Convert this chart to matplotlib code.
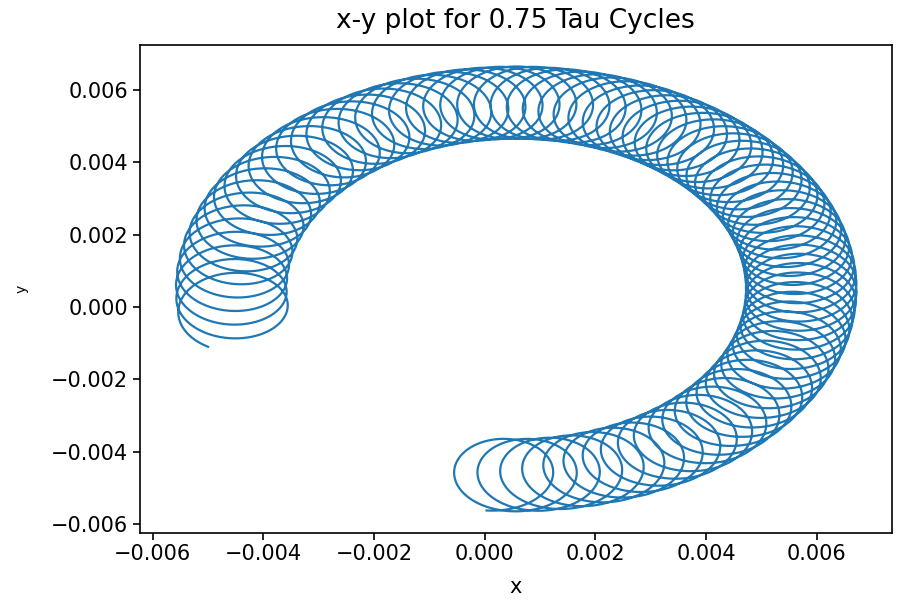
import numpy as np
import matplotlib
matplotlib.use("Agg")
import matplotlib.pyplot as plt

# -----------------------------------------
# Values
# -----------------------------------------
TITLE = "x-y plot for 0.75 Tau Cycles"
CENTER_X = 0.00057       # centre of the drift circle
CENTER_Y = 0.0005
DRIFT_RADIUS = 0.00515   # radius of the guiding-centre path
START_DEG = -95.0        # guiding-centre angle at start
END_DEG = 188.0          # guiding-centre angle at end
N_LOOPS = 80.15          # gyrations over the whole run
GYRO_RADIUS = 0.001      # radius of each loop

# loop spacing along the ring, read at a few angles
PROFILE_DEG = [-95.0, -45.0, 0.0, 45.0, 90.0, 140.0, 188.0]
LOOP_SPACING = [0.00043, 0.00033, 0.00025, 0.00026, 0.00030, 0.00035, 0.00038]
N_POINTS = 30000

# -----------------------------------------
# Build the trajectory
# -----------------------------------------
phi_grid = np.linspace(START_DEG, END_DEG, 5000)
inv_speed = 1.0 / np.interp(phi_grid, PROFILE_DEG, LOOP_SPACING)
s_grid = np.concatenate([[0.0], np.cumsum(0.5 * (inv_speed[1:] + inv_speed[:-1]) * np.diff(phi_grid))])
s_grid /= s_grid[-1]

s = np.linspace(0.0, 1.0, N_POINTS)
phi = np.deg2rad(np.interp(s, s_grid, phi_grid))
psi = 2 * np.pi * N_LOOPS * s

ur = np.stack([np.cos(phi), np.sin(phi)])
ut = np.stack([-np.sin(phi), np.cos(phi)])

gc = np.stack([CENTER_X + DRIFT_RADIUS * np.cos(phi),
               CENTER_Y + DRIFT_RADIUS * np.sin(phi)])
pos = gc + GYRO_RADIUS * (np.cos(psi) * ur + np.sin(psi) * ut)
x, y = pos

# -----------------------------------------
# Plot
# -----------------------------------------
fig = plt.figure(figsize=(8.99, 6.0), dpi=100)
ax = fig.add_axes([0.1557, 0.1122, 0.8362, 0.8128])

ax.plot(x, y, color="#1f77b4", linewidth=1.6)

ax.set_title(TITLE, fontsize=19, pad=12)
ax.set_xlabel("x", fontsize=15, labelpad=9)
ax.set_ylabel("y", fontsize=10)
ax.yaxis.set_label_coords(-0.148, 0.5)
ax.tick_params(labelsize=15, length=5, width=1.2)
for sp in ax.spines.values():
    sp.set_linewidth(1.2)

ax.set_xlim(-0.00623, 0.007355)
ax.set_ylim(-0.00624, 0.007244)
ax.set_xticks([-0.006, -0.004, -0.002, 0.0, 0.002, 0.004, 0.006])
ax.set_yticks([-0.006, -0.004, -0.002, 0.0, 0.002, 0.004, 0.006])

fig.savefig("out.png", dpi=100)
